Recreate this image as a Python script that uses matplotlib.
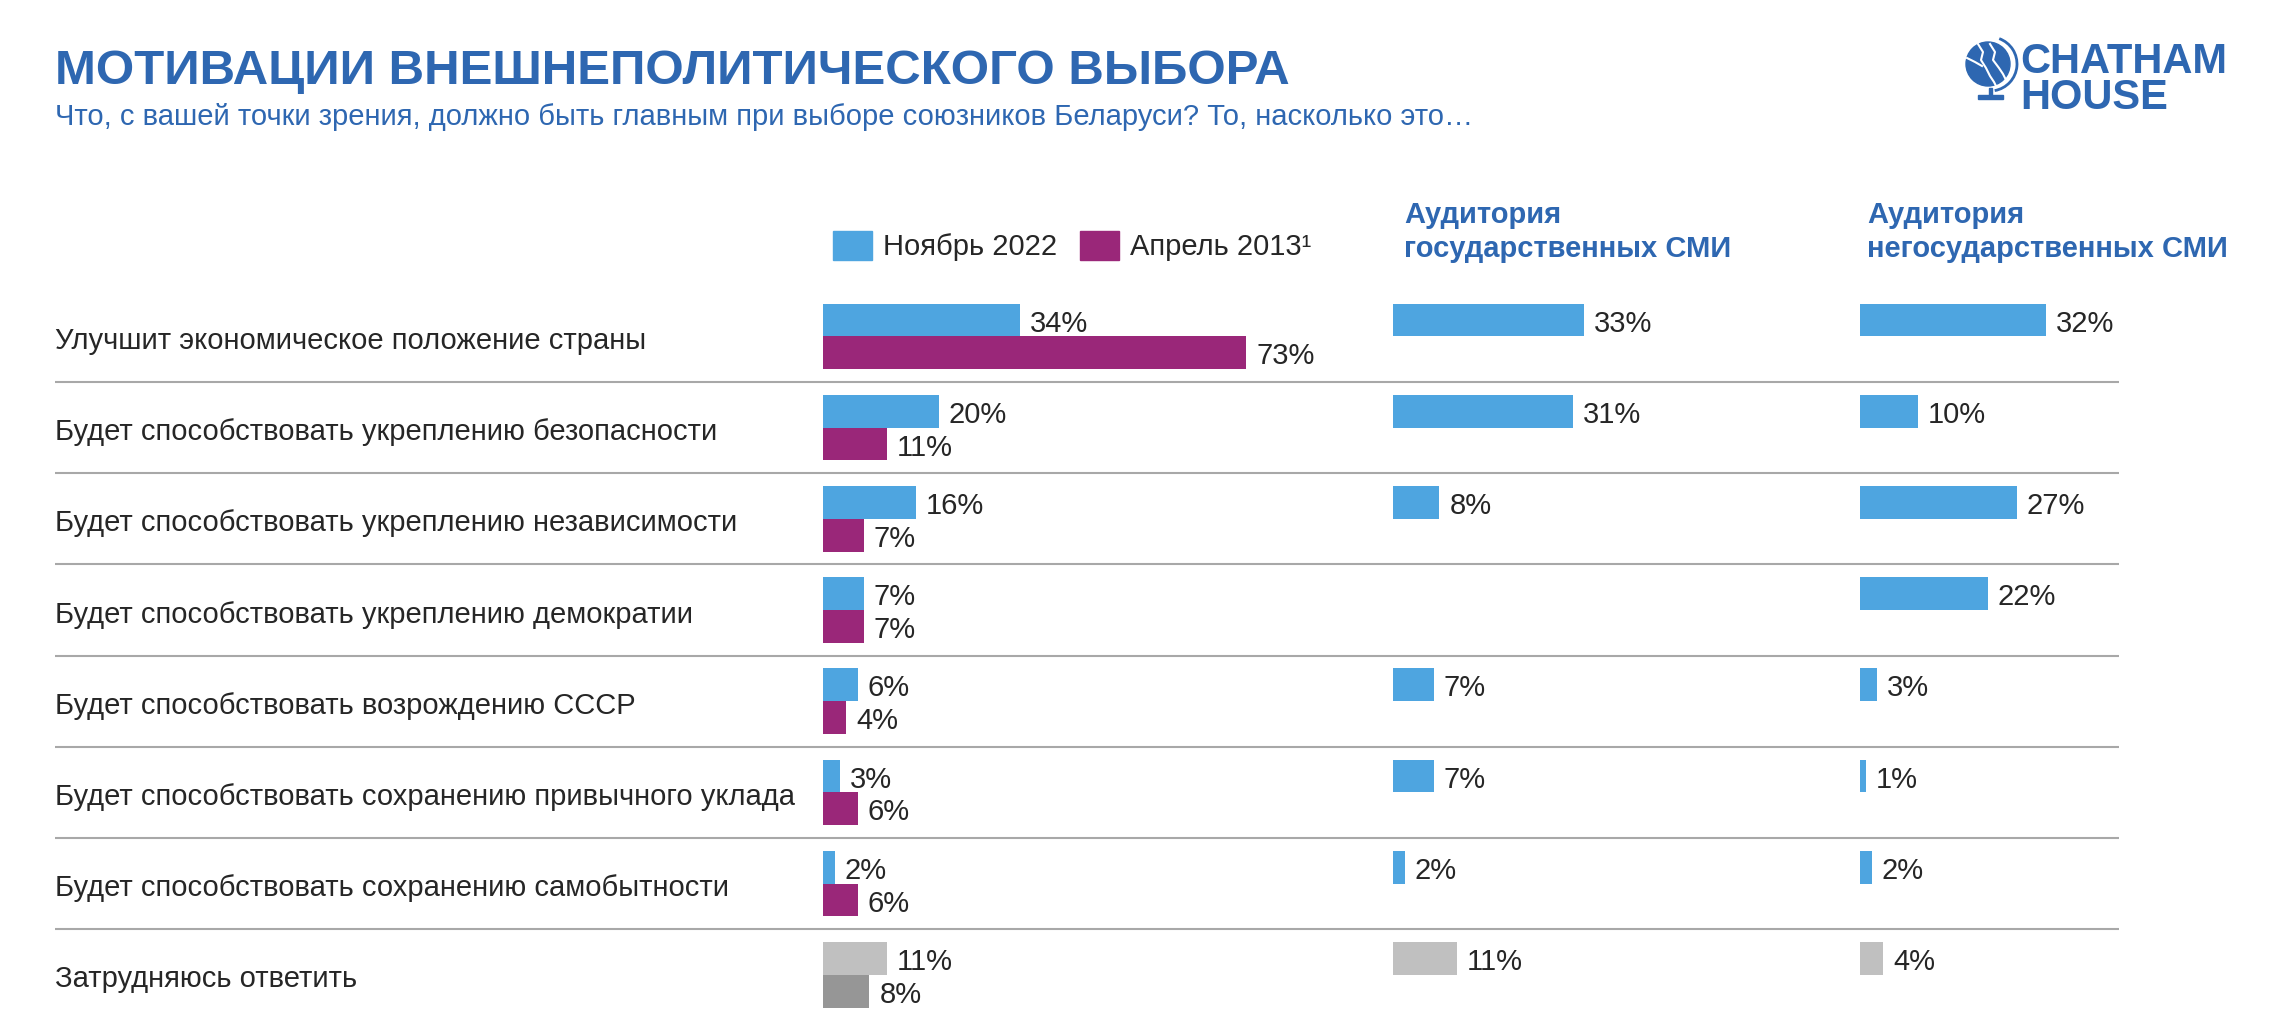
import matplotlib
matplotlib.use('Agg')
import matplotlib.pyplot as plt
from matplotlib.patches import Patch, Circle, Arc, Rectangle
import numpy as np

plt.rcParams['font.family'] = ['Liberation Sans', 'DejaVu Sans']

categories = [
    'Улучшит экономическое положение страны',
    'Будет способствовать укреплению безопасности',
    'Будет способствовать укреплению независимости',
    'Будет способствовать укреплению демократии',
    'Будет способствовать возрождению СССР',
    'Будет способствовать сохранению привычного уклада',
    'Будет способствовать сохранению самобытности',
    'Затрудняюсь ответить',
]
nov_2022 = [34, 20, 16, 7, 6, 3, 2, 11]
apr_2013 = [73, 11, 7, 7, 4, 6, 6, 8]
state_media = [33, 31, 8, None, 7, 7, 2, 11]
nonstate_media = [32, 10, 27, 22, 3, 1, 2, 4]

BLUE = '#4EA5E0'
PURPLE = '#9A2779'
GREY_L = '#C0C0C0'
GREY_D = '#969696'
TITLE = '#2E67B1'
TXT = '#262626'

W, H = 2288, 1036
fig = plt.figure(figsize=(W / 100, H / 100), dpi=100)


def fx(px):
    return px / W


def fy(py):
    return 1 - py / H


row_top, row_h = 290.8, 91.2
ax_bottom = fy(row_top + 8 * row_h)
ax_h = 8 * row_h / H
px_per_pct = 5.8
y = np.arange(len(categories))

# background: separators and category labels
bg = fig.add_axes([fx(55), ax_bottom, fx(2119 - 55), ax_h])
bg.set_xlim(0, 1)
bg.set_ylim(7.5, -0.5)
bg.axis('off')
for r in y[:-1]:
    bg.axhline(r + 0.5, color='#A8A8A8', lw=1.5)
for r, lab in zip(y, categories):
    bg.text(0, r + 0.05, lab, fontsize=21, color=TXT, va='center', ha='left')


def col_axes(left_px, xmax):
    ax = fig.add_axes([fx(left_px), ax_bottom, xmax * px_per_pct / W, ax_h])
    ax.set_xlim(0, xmax)
    ax.set_ylim(7.5, -0.5)
    ax.axis('off')
    ax.patch.set_alpha(0)
    return ax


def labels(ax, ys, vals):
    for yy, v in zip(ys, vals):
        if v is None:
            continue
        ax.text(v + 1.7, yy + 0.04, f'{v}%', fontsize=21, color=TXT, va='center', ha='left')


off, bh = 0.18, 0.36

ax1 = col_axes(823, 80)
c1 = [BLUE] * 7 + [GREY_L]
c2 = [PURPLE] * 7 + [GREY_D]
ax1.barh(y - off, nov_2022, height=bh, color=c1)
ax1.barh(y + off, apr_2013, height=bh, color=c2)
labels(ax1, y - off, nov_2022)
labels(ax1, y + off, apr_2013)

ax2 = col_axes(1393, 70)
sm = [v if v is not None else 0 for v in state_media]
ax2.barh(y - off, sm, height=bh, color=c1)
labels(ax2, y - off, state_media)

ax3 = col_axes(1860, 70)
ax3.barh(y - off, nonstate_media, height=bh, color=c1)
labels(ax3, y - off, nonstate_media)

# legend
fig.legend(handles=[Patch(color=BLUE, label='Ноябрь 2022'),
                    Patch(color=PURPLE, label='Апрель 2013¹')],
           loc='center left', bbox_to_anchor=(fx(833), fy(246)), ncol=2,
           frameon=False, fontsize=21, handlelength=1.35, handleheight=1.15,
           handletextpad=0.35, columnspacing=0.8, borderpad=0, borderaxespad=0,
           labelcolor=TXT)

# column headers
fig.text(fx(1404), fy(232), 'Аудитория\nгосударственных СМИ', fontsize=21,
         fontweight='bold', color=TITLE, va='center', ha='left', linespacing=1.3)
fig.text(fx(1867), fy(232), 'Аудитория\nнегосударственных СМИ', fontsize=21,
         fontweight='bold', color=TITLE, va='center', ha='left', linespacing=1.3)

# title
fig.text(fx(55), fy(84), 'МОТИВАЦИИ ВНЕШНЕПОЛИТИЧЕСКОГО ВЫБОРА', fontsize=35.5,
         fontweight='bold', color=TITLE, va='baseline', ha='left')
fig.text(fx(55), fy(125), 'Что, с вашей точки зрения, должно быть главным при выборе '
         'союзников Беларуси? То, насколько это…', fontsize=21, color=TITLE,
         va='baseline', ha='left')

# logo
fig.text(fx(2020), fy(73), 'CHATHAM', fontsize=30, fontweight='bold', color=TITLE,
         va='baseline', ha='left')
fig.text(fx(2020), fy(109), 'HOUSE', fontsize=30, fontweight='bold', color=TITLE,
         va='baseline', ha='left')
lg = fig.add_axes([fx(1960), fy(104), fx(64), 68 / H])
lg.set_xlim(1960, 2024)
lg.set_ylim(104, 36)
lg.set_aspect('equal')
lg.axis('off')
lg.add_patch(Circle((1988, 64), 22, color=TITLE))
lg.add_patch(Arc((1990, 64), 54, 54, angle=0, theta1=-70, theta2=80, color=TITLE, lw=2))
lg.plot([1978, 1983, 1981, 1986, 1990, 1994, 1996], [44, 52, 60, 68, 76, 82, 86],
        color='white', lw=1.5)
lg.plot([1990, 1995, 1993, 1999, 2003, 2006], [44, 52, 60, 68, 74, 80], color='white', lw=1.5)
lg.plot([1967, 1975, 1982], [58, 62, 66], color='white', lw=1.5)
lg.add_patch(Rectangle((1989, 88), 3, 8, color=TITLE))
lg.add_patch(Rectangle((1978, 95), 25, 4, color=TITLE))

fig.savefig('out.png', dpi=100)
